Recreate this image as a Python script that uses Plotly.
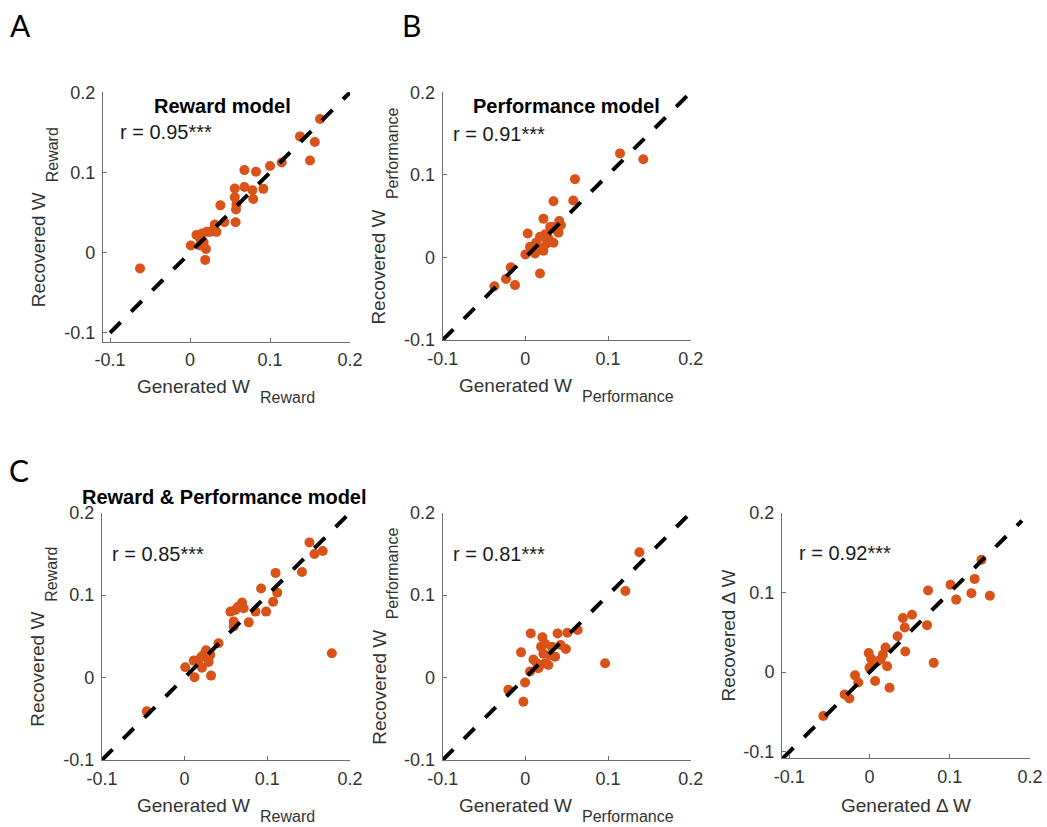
import plotly.graph_objects as go

W, H = 1047, 827

# ---------------- data ----------------
tick_vals = [-0.1, 0, 0.1, 0.2]
tick_text = ["-0.1", "0", "0.1", "0.2"]

# Panel A: Reward model
a_gen = [-0.0625, 0.1625, 0.1375, 0.156, 0.150, 0.1146, 0.100, 0.068, 0.0825, 0.0917,
         0.078, 0.068, 0.056, 0.056, 0.079, 0.058, 0.0575, 0.038, 0.043, 0.057,
         0.031, 0.029, 0.033, 0.021, 0.025, 0.008, 0.0125, 0.015, 0.001, 0.0125,
         0.020, 0.019, 0.017]
a_rec = [-0.0196, 0.1667, 0.145, 0.138, 0.115, 0.1125, 0.108, 0.103, 0.101, 0.0796,
         0.078, 0.082, 0.080, 0.069, 0.067, 0.060, 0.054, 0.059, 0.038, 0.038,
         0.035, 0.028, 0.026, 0.026, 0.026, 0.022, 0.018, 0.024, 0.009, 0.009,
         0.0046, -0.009, 0.013]

# Panel B: Performance model
b_gen = [0.1427, 0.1145, 0.060, 0.058, 0.034, 0.0218, 0.041, 0.043, 0.034, 0.040,
         0.034, 0.024, 0.0177, 0.013, 0.0056, 0.0028, 0.000, 0.0117, 0.0218, 0.028,
         0.0177, -0.0177, -0.0234, -0.0125, -0.0375, 0.0157, 0.0097, 0.030, 0.026, 0.038]
b_rec = [0.119, 0.126, 0.0948, 0.069, 0.068, 0.047, 0.044, 0.039, 0.037, 0.030,
         0.0177, 0.028, 0.025, 0.0177, 0.0129, 0.029, 0.0036, 0.0048, 0.008, 0.023,
         -0.0194, -0.012, -0.026, -0.0335, -0.035, 0.0129, 0.0109, 0.037, 0.017, 0.033]

# Panel C1: Reward & Performance model, W Reward
c1_gen = [-0.0457, 0.0008, 0.012, 0.011, 0.021, 0.017, 0.023, 0.026, 0.031, 0.029,
          0.032, 0.041, 0.020, 0.0554, 0.0614, 0.0695, 0.0715, 0.0594, 0.0594, 0.0776,
          0.0857, 0.0925, 0.0986, 0.107, 0.112, 0.110, 0.142, 0.151, 0.157, 0.167,
          0.178, 0.0646]
c1_rec = [-0.041, 0.0125, 0.0004, 0.0206, 0.012, 0.021, 0.0275, 0.033, 0.0275, 0.019,
          0.0024, 0.0416, 0.025, 0.080, 0.082, 0.091, 0.084, 0.068, 0.062, 0.067,
          0.080, 0.108, 0.080, 0.092, 0.103, 0.127, 0.128, 0.164, 0.150, 0.1535,
          0.0295, 0.086]

# Panel C2: Reward & Performance model, W Performance
c2_gen = [0.138, 0.121, 0.0964, 0.0633, 0.0508, 0.039, 0.0065, 0.0206, 0.019, 0.0238,
          0.032, 0.0427, 0.049, 0.036, 0.030, 0.0238, 0.0177, 0.0097, 0.0056, 0.0157,
          -0.0052, -0.0004, -0.0206, -0.0024, 0.0278, 0.0137, 0.0218]
c2_rec = [0.152, 0.105, 0.0173, 0.0577, 0.0544, 0.0536, 0.0536, 0.0488, 0.0375, 0.041,
          0.0375, 0.0395, 0.0347, 0.0254, 0.027, 0.0173, 0.0153, 0.022, 0.0073, 0.0113,
          0.0306, -0.006, -0.0149, -0.0294, 0.0153, 0.0173, 0.029]

# Panel C3: Reward & Performance model, Delta W
c3_gen = [-0.0575, -0.031, -0.025, -0.018, -0.014, 0.007, 0.025, -0.001, 0.002, 0.000,
          0.0104, 0.0167, 0.020, 0.022, 0.035, 0.0446, 0.0417, 0.044, 0.053, 0.073,
          0.0717, 0.080, 0.101, 0.108, 0.127, 0.131, 0.1396, 0.150, 0.006, 0.014]
c3_rec = [-0.055, -0.028, -0.033, -0.004, -0.013, -0.011, -0.0196, 0.024, 0.0167, 0.0054,
          0.0138, 0.022, 0.031, 0.0075, 0.045, 0.026, 0.068, 0.056, 0.072, 0.1025,
          0.059, 0.0117, 0.1096, 0.091, 0.099, 0.117, 0.141, 0.096, 0.0117, 0.016]

r_values = ["0.95", "0.91", "0.85", "0.81", "0.92"]

# ---------------- styling / layout ----------------
FONT = "Liberation Sans"
DOT = "#D95319"
AX = "#707070"
TXT = "#333333"

panels = [
    dict(gen=a_gen, rec=a_rec, xr=[-0.109, 0.2], yr=[-0.111, 0.2], px=[102.8, 350], py=[92.3, 341.7],
         diag=[-0.1, 0.2], xsub="Reward", ysub="Reward"),
    dict(gen=b_gen, rec=b_rec, xr=[-0.1, 0.2], yr=[-0.1, 0.2], px=[442.7, 690.7], py=[92.3, 340.0],
         diag=[-0.1, 0.197], xsub="Performance", ysub="Performance"),
    dict(gen=c1_gen, rec=c1_rec, xr=[-0.1, 0.2], yr=[-0.1, 0.2], px=[101.9, 350], py=[512.7, 760.0],
         diag=[-0.1, 0.197], xsub="Reward", ysub="Reward"),
    dict(gen=c2_gen, rec=c2_rec, xr=[-0.1, 0.2], yr=[-0.1, 0.2], px=[442.7, 690.7], py=[512.7, 760.0],
         diag=[-0.1, 0.197], xsub="Performance", ysub="Performance"),
    dict(gen=c3_gen, rec=c3_rec, xr=[-0.109, 0.2], yr=[-0.108, 0.2], px=[782.0, 1030.0], py=[512.7, 758.3],
         diag=[-0.108, 0.19], xsub=None, ysub=None),
]


def fx(p):
    return p / W


def fy(p):
    return 1 - p / H


def char_w(s, size):
    # approximate Arial widths (em)
    wid = {'R': .722, 'e': .556, 'w': .722, 'a': .556, 'r': .333, 'd': .556, 'P': .667,
           'f': .278, 'o': .556, 'm': .833, 'n': .556, 'c': .5, 'G': .778, 't': .278,
           ' ': .278, 'W': .944, 'v': .5}
    return sum(wid.get(ch, .556) for ch in s) * size


fig = go.Figure()
annotations = []
layout = {}

MAIN_SZ, SUB_SZ = 19, 16
GAP = 6

for i, p in enumerate(panels):
    n = "" if i == 0 else str(i + 1)
    xa, ya = "x" + n, "y" + n
    fig.add_trace(go.Scatter(x=p["gen"], y=p["rec"], mode="markers", xaxis=xa, yaxis=ya,
                             marker=dict(color=DOT, size=10, line=dict(width=0)),
                             hoverinfo="skip", showlegend=False, cliponaxis=False))
    fig.add_trace(go.Scatter(x=p["diag"], y=p["diag"], mode="lines", xaxis=xa, yaxis=ya,
                             line=dict(color="black", width=4, dash="15px,15px"),
                             hoverinfo="skip", showlegend=False, cliponaxis=False))
    common = dict(showline=True, linecolor=AX, linewidth=1, ticks="inside", ticklen=4,
                  tickcolor=AX, tickwidth=1, tickvals=tick_vals, ticktext=tick_text,
                  tickfont=dict(family=FONT, size=18, color=TXT), showgrid=False,
                  zeroline=False, mirror=False, fixedrange=True, automargin=False)
    layout["xaxis" + n] = dict(domain=[fx(p["px"][0]), fx(p["px"][1])], range=p["xr"],
                               anchor=ya, ticklabelstandoff=2, **common)
    layout["yaxis" + n] = dict(domain=[fy(p["py"][1]), fy(p["py"][0])], range=p["yr"],
                               anchor=xa, ticklabelstandoff=3, **common)

    # r annotation
    annotations.append(dict(xref=xa, yref=ya, x=-0.09, y=0.15, xanchor="left", yanchor="middle",
                            text="r = " + r_values[i] + "***", showarrow=False,
                            font=dict(family=FONT, size=20, color="#1a1a1a")))

    # x axis title
    xc = (p["px"][0] + p["px"][1]) / 2
    ybot = p["py"][1]
    if p["xsub"]:
        mw = char_w("Generated W", MAIN_SZ)
        sw = char_w(p["xsub"], SUB_SZ)
        left = xc - (mw + GAP + sw) / 2
        annotations.append(dict(xref="paper", yref="paper", x=fx(left + mw), y=fy(ybot + 45),
                                xanchor="right", yanchor="middle", text="Generated W",
                                showarrow=False, font=dict(family=FONT, size=MAIN_SZ, color=TXT)))
        annotations.append(dict(xref="paper", yref="paper", x=fx(left + mw + GAP), y=fy(ybot + 56),
                                xanchor="left", yanchor="middle", text=p["xsub"],
                                showarrow=False, font=dict(family=FONT, size=SUB_SZ, color=TXT)))
    else:
        annotations.append(dict(xref="paper", yref="paper", x=fx(xc), y=fy(ybot + 47),
                                xanchor="center", yanchor="middle", text="Generated Δ W",
                                showarrow=False, font=dict(family=FONT, size=MAIN_SZ, color=TXT)))

    # y axis title
    yc = (p["py"][0] + p["py"][1]) / 2
    xl = p["px"][0]
    if p["ysub"]:
        mw = char_w("Recovered W", MAIN_SZ)
        sw = char_w(p["ysub"], SUB_SZ)
        bottom = yc + (mw + GAP + sw) / 2
        annotations.append(dict(xref="paper", yref="paper", x=fx(xl - 64), y=fy(bottom - mw),
                                xanchor="center", yanchor="top", textangle=-90, text="Recovered W",
                                showarrow=False, font=dict(family=FONT, size=MAIN_SZ, color=TXT)))
        annotations.append(dict(xref="paper", yref="paper", x=fx(xl - 50), y=fy(bottom - mw - GAP),
                                xanchor="center", yanchor="bottom", textangle=-90, text=p["ysub"],
                                showarrow=False, font=dict(family=FONT, size=SUB_SZ, color=TXT)))
    else:
        annotations.append(dict(xref="paper", yref="paper", x=fx(xl - 54), y=fy(yc),
                                xanchor="center", yanchor="middle", textangle=-90, text="Recovered Δ W",
                                showarrow=False, font=dict(family=FONT, size=MAIN_SZ, color=TXT)))

# panel titles
titles = [("<b>Reward model</b>", 222, 106), ("<b>Performance model</b>", 566, 106),
          ("<b>Reward &amp; Performance model</b>", 224, 497)]
for t, x, y in titles:
    annotations.append(dict(xref="paper", yref="paper", x=fx(x), y=fy(y), xanchor="center",
                            yanchor="middle", text=t, showarrow=False,
                            font=dict(family=FONT, size=20, color="black")))

# panel letters
letters = [("A", 20, 25), ("B", 412, 25), ("C", 19, 470)]
for t, x, y in letters:
    annotations.append(dict(xref="paper", yref="paper", x=fx(x), y=fy(y), xanchor="center",
                            yanchor="middle", text=t, showarrow=False,
                            font=dict(family="Lato", size=30, color="black")))

fig.update_layout(width=W, height=H, margin=dict(l=0, r=0, t=0, b=0, autoexpand=False),
                  paper_bgcolor="white", plot_bgcolor="white", showlegend=False,
                  annotations=annotations, **layout)

fig.write_html("out.html", config={"displayModeBar": False},
               post_script="document.body.style.margin='0px';document.body.style.overflow='hidden';")
